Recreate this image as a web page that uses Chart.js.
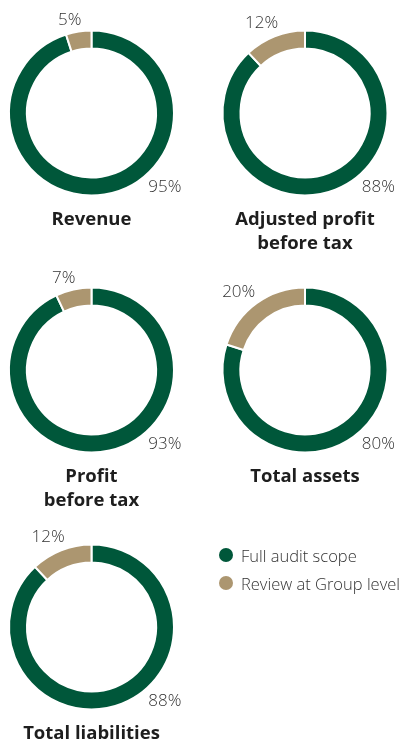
<!DOCTYPE html>
<html>
<head>
<meta charset="utf-8">
<script src="https://cdn.jsdelivr.net/npm/chart.js@4"></script>
<style>
  body { margin: 0; background: #fff; width: 403px; height: 741px; position: relative; overflow: hidden;
         font-family: "Open Sans", "Noto Sans", sans-serif; }
  .cell { position: absolute; }
  .cell canvas { display: block; }
  .title { position: absolute; text-align: center; font-weight: 700; font-size: 18.5px; line-height: 23.5px; color: #1e1e1e; }
  .key { position: absolute; left: 241px; height: 28px; line-height: 28px; font-size: 16.5px; font-weight: 300; color: #333; white-space: nowrap; }
  .dot { position: absolute; left: 219px; width: 14px; height: 14px; border-radius: 50%; }
</style>
</head>
<body>

<script>
/* Audit coverage donuts */

const SERIES = ['Full audit scope', 'Review at Group level'];
const COLORS = ['#00573a', '#ac9670'];

const METRICS  = ['Revenue', 'Adjusted profit\nbefore tax', 'Profit\nbefore tax', 'Total assets', 'Total liabilities'];
const FULL     = [95, 88, 93, 80, 88];
const REVIEW   = [5, 12, 7, 20, 12];

// donut centres on the page
const CENTER_X = [91.5, 305, 91.5, 305, 91.5];
const CENTER_Y = [113, 113, 370, 370, 627];
const HALF = 83.5;        // half of the chart area side
const CUTOUT = '78.2%';
const LABEL_GAP = 5;

// percentage labels outside the ring
const ringLabels = {
  id: 'ringLabels',
  afterDatasetsDraw(chart) {
    const { ctx } = chart;
    const meta = chart.getDatasetMeta(0);
    const data = chart.data.datasets[0].data;
    ctx.save();
    ctx.font = '300 17px "Open Sans", "Noto Sans", sans-serif';
    ctx.fillStyle = '#333';
    ctx.textAlign = 'center';
    ctx.textBaseline = 'middle';
    meta.data.forEach((arc, i) => {
      const { x, y, outerRadius, startAngle, endAngle } = arc.getProps(['x', 'y', 'outerRadius', 'startAngle', 'endAngle'], true);
      const text = data[i] + '%';
      // big share sits at the lower right, small share just left of its slice middle
      const a = i === 0 ? Math.PI / 4 : (startAngle + endAngle) / 2 - 0.07;
      const tw = ctx.measureText(text).width, th = 13;
      const d = outerRadius + LABEL_GAP + Math.abs(Math.cos(a)) * tw / 2 + Math.abs(Math.sin(a)) * th / 2;
      ctx.fillText(text, x + Math.cos(a) * d, y + Math.sin(a) * d + 1);
    });
    ctx.restore();
  },
};

METRICS.forEach((name, i) => {
  const col = i % 2;
  const left = col * 200, w = col ? 203 : 200, top = CENTER_Y[i] - 113, h = 210;

  const cell = document.createElement('div');
  cell.className = 'cell';
  cell.style.cssText = `left:${left}px;top:${top}px;width:${w}px;height:${h}px`;
  const canvas = document.createElement('canvas');
  cell.appendChild(canvas);
  document.body.appendChild(cell);

  const title = document.createElement('div');
  title.className = 'title';
  title.style.cssText = `left:${CENTER_X[i] - 100}px;width:200px;top:${CENTER_Y[i] + 93}px`;
  title.innerHTML = name.replace('\n', '<br>');
  document.body.appendChild(title);

  const cx = CENTER_X[i] - left, cy = CENTER_Y[i] - top;
  new Chart(canvas, {
    type: 'doughnut',
    data: {
      labels: SERIES,
      datasets: [{
        data: [FULL[i], REVIEW[i]],
        backgroundColor: COLORS,
        borderColor: '#fff',
        borderWidth: 2,
      }],
    },
    options: {
      responsive: true,
      maintainAspectRatio: false,
      animation: false,
      cutout: CUTOUT,
      layout: {
        padding: {
          left: cx - HALF, right: w - cx - HALF,
          top: cy - HALF, bottom: h - cy - HALF,
        },
      },
      plugins: { legend: { display: false }, tooltip: { enabled: false } },
    },
    plugins: [ringLabels],
  });
});

// series key
SERIES.forEach((s, i) => {
  const dot = document.createElement('div');
  dot.className = 'dot';
  dot.style.top = (548 + i * 28) + 'px';
  dot.style.background = COLORS[i];
  document.body.appendChild(dot);

  const key = document.createElement('div');
  key.className = 'key';
  key.style.top = (542 + i * 28) + 'px';
  key.textContent = s;
  document.body.appendChild(key);
});
</script>
</body>
</html>
